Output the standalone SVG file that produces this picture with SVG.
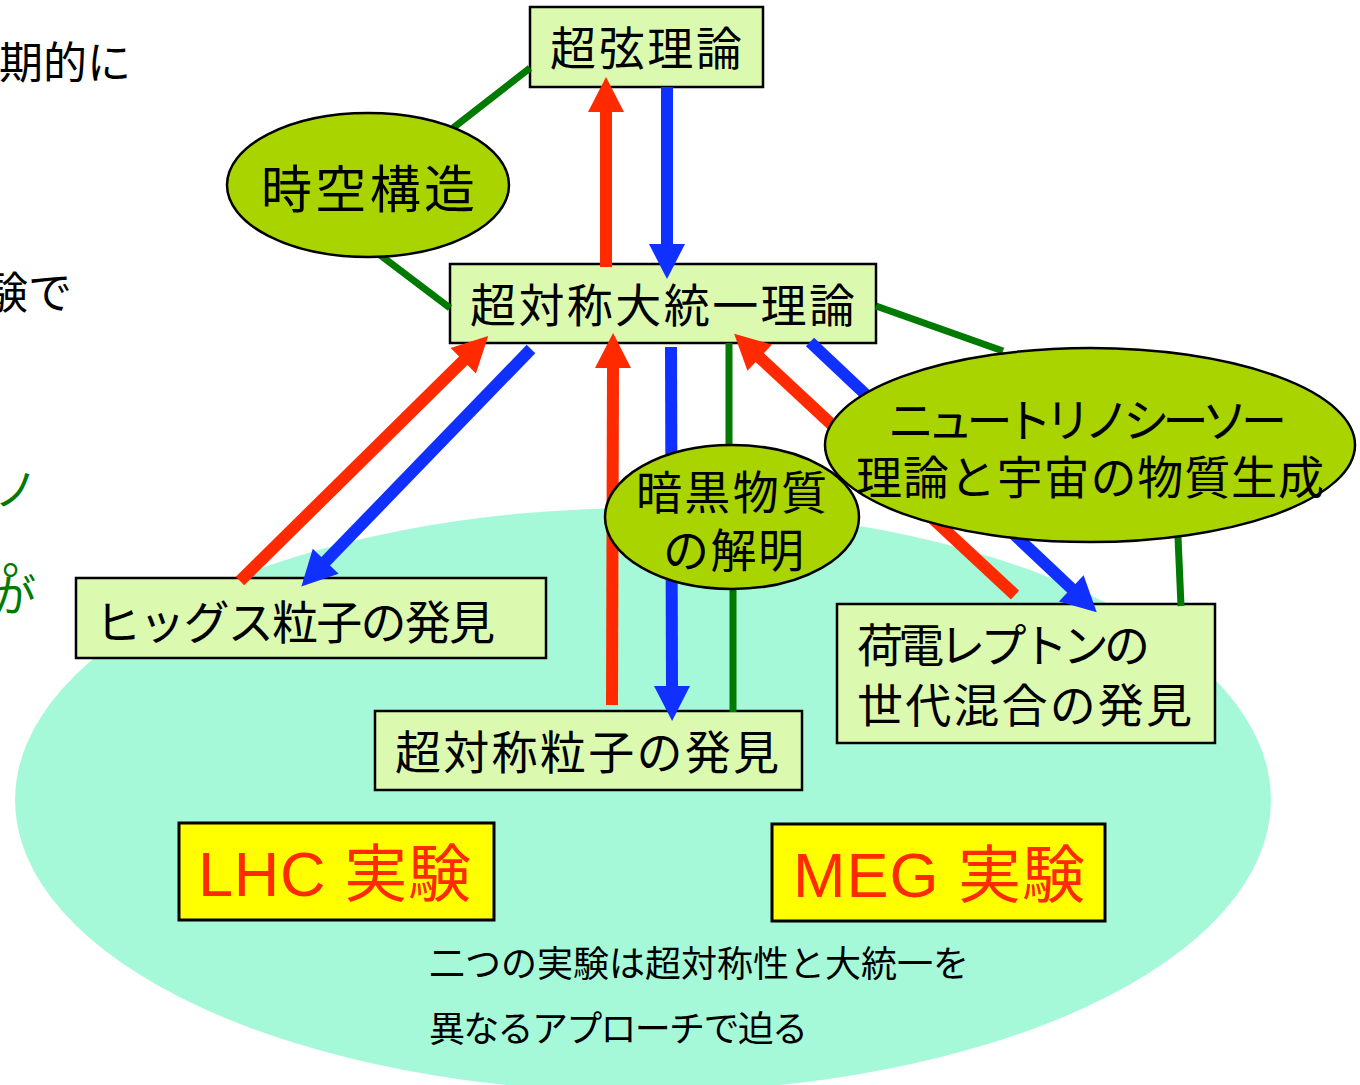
<svg xmlns="http://www.w3.org/2000/svg" width="1360" height="1085" viewBox="0 0 1360 1085">
<style>
.box{fill:#DCF9B0;stroke:#000;stroke-width:2.5}
.ell{fill:#A9D400;stroke:#000;stroke-width:2.5}
.exp{fill:#FFFF00;stroke:#000;stroke-width:3}
.t{font-family:"Noto Sans CJK JP",sans-serif;fill:#000}
.big{font-size:46px}
.ex{font-family:"Liberation Sans","Noto Sans CJK JP",sans-serif;font-size:63px;fill:#FF2A00}
.g{stroke:#007A00;stroke-width:7;fill:none}
.r{stroke:#FF2A00;stroke-width:12;fill:none}
.b{stroke:#1030FF;stroke-width:12;fill:none}
.gt{font-family:"Noto Sans CJK JP",sans-serif;font-size:44px;fill:#007A00}
</style>
<defs>
<marker id="hr" markerUnits="userSpaceOnUse" markerWidth="36" markerHeight="36" refX="1" refY="18" orient="auto" overflow="visible"><path d="M0,0 L35,18 L0,36 z" fill="#FF2A00"/></marker>
<marker id="hb" markerUnits="userSpaceOnUse" markerWidth="36" markerHeight="36" refX="1" refY="18" orient="auto" overflow="visible"><path d="M0,0 L35,18 L0,36 z" fill="#1030FF"/></marker>
</defs>
<rect width="1360" height="1085" fill="#fff"/>
<ellipse id="bg-ellipse" cx="643" cy="800" rx="628" ry="292" fill="#A6F9D8"/>

<g id="fragments">
<text class="t" x="131" y="79" font-size="44" text-anchor="end">期的に</text>
<text class="t" x="72" y="309" font-size="44" text-anchor="end">験で</text>
<text class="gt" x="38" y="506" text-anchor="end">ノ</text>
<text class="gt" x="2" y="574" font-size="44">。</text>
<text class="gt" x="36" y="612" text-anchor="end">が</text>
</g>

<g id="n-superstring">
<rect class="box" x="530" y="7" width="233" height="80"/>
<text class="t big" x="550" y="65" textLength="192" lengthAdjust="spacing">超弦理論</text>
</g>
<g id="n-susy-gut">
<rect class="box" x="450" y="264" width="426" height="79"/>
<text class="t big" x="470" y="322" textLength="385" lengthAdjust="spacing">超対称大統一理論</text>
</g>
<g id="n-higgs">
<rect class="box" x="76" y="578" width="470" height="80"/>
<text class="t big" x="95" y="639" textLength="400" lengthAdjust="spacing">ヒッグス粒子の発見</text>
</g>
<g id="n-susy-particle">
<rect class="box" x="375" y="711" width="427" height="79"/>
<text class="t big" x="395" y="769" textLength="384" lengthAdjust="spacing">超対称粒子の発見</text>
</g>
<g id="n-lepton">
<rect class="box" x="837" y="604" width="378" height="139"/>
<text class="t big" x="857" y="662" textLength="293" lengthAdjust="spacing">荷電レプトンの</text>
<text class="t big" x="857" y="722" textLength="335" lengthAdjust="spacing">世代混合の発見</text>
</g>
<g id="n-lhc">
<rect class="exp" x="179" y="823" width="315" height="97"/>
<text class="ex" x="198" y="896" textLength="273" lengthAdjust="spacing">LHC 実験</text>
</g>
<g id="n-meg">
<rect class="exp" x="772" y="824" width="333" height="97"/>
<text class="ex" x="793" y="897" textLength="292" lengthAdjust="spacing">MEG 実験</text>
</g>

<g id="connectors">
<line class="g" x1="453" y1="128" x2="530" y2="68"/>
<line class="g" x1="380" y1="255" x2="450" y2="308"/>
<line class="g" x1="876" y1="306" x2="1003" y2="351"/>
<line class="g" x1="729" y1="343" x2="729" y2="447"/>
<line class="g" x1="733" y1="590" x2="733" y2="712"/>
<line class="g" x1="1178" y1="537" x2="1181" y2="606"/>
<line class="r" x1="606" y1="267" x2="606" y2="111" marker-end="url(#hr)"/>
<line class="b" x1="667" y1="87" x2="667" y2="245" marker-end="url(#hb)"/>
<line class="r" x1="240" y1="581" x2="464" y2="360" marker-end="url(#hr)"/>
<line class="b" x1="531" y1="349" x2="325" y2="562" marker-end="url(#hb)"/>
<line class="r" x1="612" y1="705" x2="613" y2="367" marker-end="url(#hr)"/>
<line class="b" x1="671" y1="347" x2="672" y2="687" marker-end="url(#hb)"/>
<line class="r" x1="1015" y1="595" x2="759" y2="357" marker-end="url(#hr)"/>
<line class="b" x1="810" y1="342" x2="1072" y2="589" marker-end="url(#hb)"/>
</g>

<g id="n-spacetime">
<ellipse class="ell" cx="368" cy="185" rx="141" ry="72"/>
<text class="t" x="261" y="208" font-size="51" textLength="214" lengthAdjust="spacing">時空構造</text>
</g>
<g id="n-neutrino">
<ellipse class="ell" cx="1090" cy="445" rx="265" ry="97"/>
<text class="t big" x="888" y="437" textLength="399" lengthAdjust="spacing">ニュートリノシーソー</text>
<text class="t big" x="856" y="494" textLength="468" lengthAdjust="spacing">理論と宇宙の物質生成</text>
</g>
<g id="n-darkmatter">
<ellipse class="ell" cx="732" cy="517" rx="127" ry="72"/>
<text class="t big" x="636" y="509" textLength="191" lengthAdjust="spacing">暗黒物質</text>
<text class="t big" x="663" y="567" textLength="141" lengthAdjust="spacing">の解明</text>
</g>

<g id="caption">
<text class="t" x="429" y="977" font-size="36" textLength="540" lengthAdjust="spacing">二つの実験は超対称性と大統一を</text>
<text class="t" x="429" y="1042" font-size="36" textLength="379" lengthAdjust="spacing">異なるアプローチで迫る</text>
</g>
</svg>
